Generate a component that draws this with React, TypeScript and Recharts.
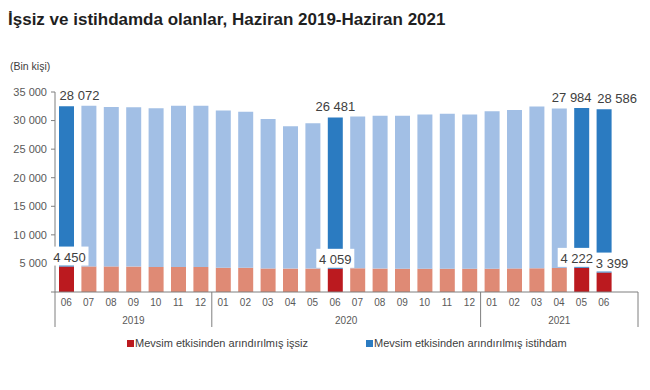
import React from 'react'
import { BarChart, Bar, XAxis, YAxis, Cell, LabelList } from 'recharts'

// month keys, year-month
const periods = [
  '2019-06', '2019-07', '2019-08', '2019-09', '2019-10', '2019-11', '2019-12',
  '2020-01', '2020-02', '2020-03', '2020-04', '2020-05', '2020-06', '2020-07',
  '2020-08', '2020-09', '2020-10', '2020-11', '2020-12',
  '2021-01', '2021-02', '2021-03', '2021-04', '2021-05', '2021-06'
]

// Mevsim etkisinden arındırılmış işsiz (bin kişi)
const unemployed = [
  4450, 4480, 4480, 4450, 4380, 4380, 4380,
  4250, 4250, 4120, 4100, 4100, 4059, 4150,
  4100, 4080, 4080, 4080, 4080,
  4080, 4130, 4150, 4200, 4222, 3399
]

// Mevsim etkisinden arındırılmış istihdam (bin kişi)
const employed = [
  28072, 28100, 27900, 27900, 27780, 28200, 28200,
  27500, 27300, 26150, 24900, 25450, 26481, 26570,
  26740, 26760, 27000, 27100, 27000,
  27550, 27700, 28300, 27900, 27984, 28586
]

const highlighted = ['2019-06', '2020-06', '2021-05', '2021-06']
const yTicks = [0, 5000, 10000, 15000, 20000, 25000, 30000, 35000]

const data = periods.map((p, i) => ({
  period: p,
  month: p.slice(5),
  year: p.slice(0, 4),
  unemployed: unemployed[i],
  employed: employed[i],
  hl: highlighted.includes(p)
}))

const W = 650
const H = 390
const PLOT_LEFT = 55
const PLOT_RIGHT = 638
const PAD_RIGHT = 23
const BAND = (PLOT_RIGHT - PLOT_LEFT - PAD_RIGHT) / data.length

const FONT = '"Liberation Sans", Arial, sans-serif'
const TEXT = '#404040'

// Excel nudged some labels sideways to avoid overlaps
const blueShift: Record<string, number> = { '2019-06': 13, '2021-05': -10, '2021-06': 13 }
const redShift: Record<string, number> = { '2019-06': 3, '2021-05': -5, '2021-06': 8 }

const fmt = (v: number) => String(v).replace(/\B(?=(\d{3})+(?!\d))/g, ' ')

function MonthTick(props: any) {
  const { x, y, index } = props
  const d = data[index]
  if (!d) return null
  const isStart = index === 0 || data[index - 1].year !== d.year
  const parts: React.ReactNode[] = []
  parts.push(
    <text key="m" x={x} y={y + 14} textAnchor="middle" fontSize={10} fill="#595959" fontFamily={FONT}>
      {d.month}
    </text>
  )
  if (isStart) {
    const left = x - BAND / 2
    parts.push(<line key="s" x1={left} x2={left} y1={y} y2={y + 35} stroke="#7f7f7f" strokeWidth={1} />)
    const count = data.filter(e => e.year === d.year).length
    const lastGroup = data[data.length - 1].year === d.year
    const right = lastGroup ? PLOT_RIGHT : left + count * BAND
    parts.push(
      <text key="y" x={(left + right) / 2} y={y + 32} textAnchor="middle" fontSize={10} fill="#595959" fontFamily={FONT}>
        {d.year}
      </text>
    )
    if (lastGroup) {
      parts.push(<line key="e" x1={PLOT_RIGHT} x2={PLOT_RIGHT} y1={y} y2={y + 35} stroke="#7f7f7f" strokeWidth={1} />)
    }
  }
  return <g>{parts}</g>
}

function BlueLabel(props: any) {
  const { x, y, width, index, value } = props
  const d = data[index]
  if (!d || !d.hl) return null
  const cx = x + width / 2 + (blueShift[d.period] || 0)
  return (
    <text x={cx} y={y - 6} textAnchor="middle" fontSize={13} fill={TEXT} fontFamily={FONT}>
      {fmt(value)}
    </text>
  )
}

function RedLabel(props: any) {
  const { x, y, width, height, index, value } = props
  const d = data[index]
  if (!d || !d.hl) return null
  const top = y + height
  const cx = x + width / 2 + (redShift[d.period] || 0)
  return (
    <g>
      <rect x={cx - 19} y={top - 20} width={38} height={19} fill="#fff" />
      <text x={cx} y={top - 5} textAnchor="middle" fontSize={13} fill={TEXT} fontFamily={FONT}>
        {fmt(value)}
      </text>
    </g>
  )
}

export default function App() {
  return (
    <div style={{ position: 'absolute', left: 0, top: 0, width: W, height: H, background: '#fff', fontFamily: FONT }}>
      <div style={{ position: 'absolute', left: 8, top: 10, fontSize: 17, lineHeight: '20px', fontWeight: 'bold', color: '#1f1f1f', whiteSpace: 'nowrap' }}>
        İşsiz ve istihdamda olanlar, Haziran 2019-Haziran 2021
      </div>
      <div style={{ position: 'absolute', left: 10, top: 59, fontSize: 10.5, lineHeight: '14px', color: TEXT }}>
        (Bin kişi)
      </div>
      <BarChart width={W} height={H} data={data} margin={{ top: 92, right: W - PLOT_RIGHT, bottom: 58, left: 0 }}>
        <XAxis
          dataKey="period"
          interval={0}
          tickLine={false}
          tickSize={0}
          tickMargin={0}
          height={40}
          padding={{ left: 0, right: PAD_RIGHT }}
          axisLine={{ stroke: '#7f7f7f' }}
          tick={<MonthTick />}
        />
        <YAxis
          width={PLOT_LEFT}
          domain={[0, 35000]}
          ticks={yTicks}
          tickFormatter={(v: number) => (v === 0 ? '' : fmt(v))}
          tickSize={4}
          tickMargin={4}
          axisLine={{ stroke: '#7f7f7f' }}
          tickLine={{ stroke: '#7f7f7f' }}
          tick={{ fontSize: 11, fill: '#595959', fontFamily: FONT }}
        />
        <Bar dataKey="unemployed" stackId="a" barSize={15} isAnimationActive={false}>
          {data.map(d => (
            <Cell key={d.period} fill={d.hl ? '#bb1a1f' : '#df8a75'} />
          ))}
        </Bar>
        <Bar dataKey="employed" stackId="a" barSize={15} isAnimationActive={false}>
          {data.map(d => (
            <Cell key={d.period} fill={d.hl ? '#2b7bc1' : '#a2bfe5'} />
          ))}
          <LabelList dataKey="employed" content={<BlueLabel />} />
          <LabelList dataKey="unemployed" content={<RedLabel />} />
        </Bar>
      </BarChart>
      <div style={{ position: 'absolute', left: 127, top: 335, fontSize: 11, lineHeight: '16px', color: TEXT, display: 'flex', whiteSpace: 'nowrap' }}>
        <span style={{ display: 'inline-flex', alignItems: 'center' }}>
          <span style={{ width: 7, height: 7, background: '#bb1a1f', marginRight: 1 }} />
          Mevsim etkisinden arındırılmış işsiz
        </span>
        <span style={{ display: 'inline-flex', alignItems: 'center', position: 'absolute', left: 239 }}>
          <span style={{ width: 7, height: 7, background: '#2b7bc1', marginRight: 1 }} />
          Mevsim etkisinden arındırılmış istihdam
        </span>
      </div>
    </div>
  )
}
